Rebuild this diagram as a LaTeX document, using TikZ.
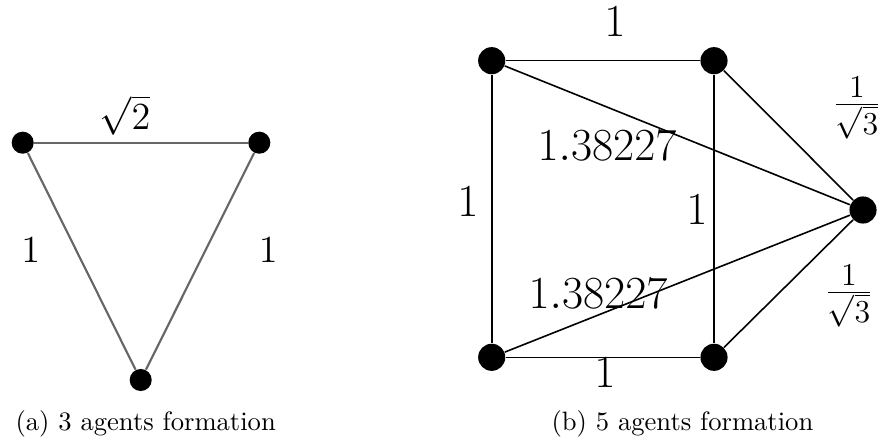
\documentclass[tikz,border=0pt]{standalone}
\begin{document}
\begin{tikzpicture}[x=0.376pt,y=-0.376pt,
		agent/.style={circle,fill=black,inner sep=0pt,minimum size=8.3pt},
		bigagent/.style={circle,fill=black,inner sep=0pt,minimum size=10.2pt},
		link/.style={draw=black!60,line width=0.8pt},
		bond/.style={draw=black,line width=0.6pt},
		lbl/.style={inner sep=0pt,font=\fontsize{14}{16}\selectfont},
		biglbl/.style={inner sep=0pt,font=\fontsize{17}{20}\selectfont}]
			\useasboundingbox (0,0) rectangle (885,446);
			% 3 agents
			\node[agent] (a1) at (22.7,142.7) {};
			\node[agent] (a2) at (259.3,142.7) {};
			\node[agent] (a3) at (140.7,380) {};
			\draw[link] (a1) -- (a2);
			\draw[link] (a1) -- (a3);
			\draw[link] (a2) -- (a3);
			\node[lbl] (l12) at (125,115) {$\sqrt{2}$};
			\node[lbl] (l13) at (30.7,250) {$1$};
			\node[lbl] (l23) at (268.3,250) {$1$};
			% 5 agents
			\node[bigagent] (b1) at (491.7,60.7) {};
			\node[bigagent] (b2) at (714,60.7) {};
			\node[bigagent] (b3) at (863,210) {};
			\node[bigagent] (b4) at (714,357.3) {};
			\node[bigagent] (b5) at (491.7,357.3) {};
			\draw[bond] (b1) -- (b2);
			\draw[bond] (b1) -- (b5);
			\draw[bond] (b5) -- (b4);
			\draw[bond] (b2) -- (b4);
			\draw[bond] (b1) -- (b3);
			\draw[bond] (b5) -- (b3);
			\draw[bond] (b2) -- (b3);
			\draw[bond] (b4) -- (b3);
			\node[biglbl] (m12) at (615,22) {$1$};
			\node[biglbl] (m15) at (468,202) {$1$};
			\node[biglbl] (m24) at (697,210) {$1$};
			\node[biglbl] (m54) at (605,373) {$1$};
			\node[biglbl] (m13) at (607,146) {$1.38227$};
			\node[biglbl] (m53) at (598,294) {$1.38227$};
			\node[biglbl] (m23) at (857,108) {$\frac{1}{\sqrt{3}}$};
			\node[biglbl] (m43) at (849,296) {$\frac{1}{\sqrt{3}}$};
			% captions
			\node[anchor=base west,inner sep=0pt] (capa) at (15,430.7) {(a) 3 agents formation};
			\node[anchor=base west,inner sep=0pt] (capb) at (551,430.7) {(b) 5 agents formation};
		\end{tikzpicture}
\end{document}
